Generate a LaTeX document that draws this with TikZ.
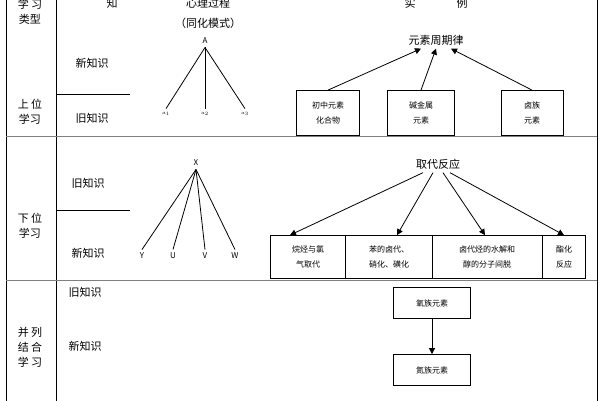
\documentclass[tikz,border=0pt]{standalone}
\usepackage{fontspec}
\setmainfont{Noto Sans CJK SC}
\usetikzlibrary{arrows.meta}
\begin{document}
\begin{tikzpicture}[x=1pt,y=-1pt,
  lbl/.style={font=\fontsize{11}{15}\selectfont,align=center},
  sm/.style={font=\fontsize{8}{12}\selectfont,align=center},
  bx/.style={draw,thick,font=\fontsize{8}{15}\selectfont,align=center,inner sep=0pt},
  arr/.style={-{Triangle[length=6pt,width=6pt]},thick},
  ln/.style={thick}]
\fill[white] (0,0) rectangle (600,400);
\useasboundingbox (0,0) rectangle (600,400);
% table
\draw[ln] (6,-5) -- (6,405);
\draw[ln] (56,-5) -- (56,405);
\draw[ln] (597,-5) -- (597,405);
\draw[thick,gray] (6,136) -- (597,136);
\draw[thick,gray] (6,280) -- (597,280);
\draw[ln] (56,94) -- (130,94);
\draw[ln] (56,210) -- (130,210);
% header
\node[lbl] (h1) at (30,12) {学 习\\类型};
\node[lbl] (h2) at (112,3) {知};
\node[lbl] (h3) at (208,3) {心理过程};
\node[lbl] (h4) at (208,23) {（同化模式）};
\node[lbl] (h5) at (410,3) {实};
\node[lbl] (h6) at (462,3) {例};
% row1
\node[lbl] (r1) at (30,112) {上 位\\学习};
\node[lbl] (n1) at (92,63) {新知识};
\node[lbl] (o1) at (92,118) {旧知识};
\node[sm] (A) at (205,41) {A};
\node[font=\tiny] (a1) at (166,114) {$a_1$};
\node[font=\tiny] (a2) at (205,114) {$a_2$};
\node[font=\tiny] (a3) at (245,114) {$a_3$};
\draw[ln] (A.south) -- (a1.north);
\draw[ln] (A.south) -- (a2.north);
\draw[ln] (A.south) -- (a3.north);
\node[lbl] (P) at (436,40) {元素周期律};
\node[bx,minimum width=63pt,minimum height=45pt] (b1) at (328,113) {初中元素\\化合物};
\node[bx,minimum width=67pt,minimum height=45pt] (b2) at (421,113) {碱金属\\元素};
\node[bx,minimum width=62pt,minimum height=45pt] (b3) at (532,113) {卤族\\元素};
\draw[arr] (b1.north) -- ([xshift=-15pt]P.south);
\draw[arr] (b2.north) -- ([xshift=0pt]P.south);
\draw[arr] (b3.north) -- ([xshift=15pt]P.south);
% row2
\node[lbl] (r2) at (30,226) {下 位\\学习};
\node[lbl] (o2) at (88,183) {旧知识};
\node[lbl] (n2) at (88,253) {新知识};
\node[sm] (X) at (196,163) {X};
\node[sm] (Y) at (142,256) {Y};
\node[sm] (U) at (173,256) {U};
\node[sm] (V) at (205,256) {V};
\node[sm] (W) at (235,256) {W};
\foreach \t in {Y,U,V,W} \draw[ln] (X.south) -- (\t.north);
\node[lbl] (Q) at (438,164) {取代反应};
\node[bx,minimum width=75pt,minimum height=43pt] (c1) at (308,257) {烷烃与氯\\气取代};
\node[bx,minimum width=87pt,minimum height=43pt] (c2) at (389,257) {苯的卤代、\\硝化、磺化};
\node[bx,minimum width=110pt,minimum height=43pt] (c3) at (487,257) {卤代烃的水解和\\醇的分子间脱};
\node[bx,minimum width=43pt,minimum height=43pt] (c4) at (564,257) {酯化\\反应};
\draw[arr] ([xshift=-15pt]Q.south) -- ([xshift=-18pt]c1.north);
\draw[arr] ([xshift=-5pt]Q.south) -- ([xshift=8pt]c2.north);
\draw[arr] ([xshift=5pt]Q.south) -- ([xshift=-2pt]c3.north);
\draw[arr] ([xshift=12pt]Q.south) -- ([xshift=0pt]c4.north);
% row3
\node[lbl] (r3) at (30,347) {并 列\\结 合\\学 习};
\node[lbl] (o3) at (85,292) {旧知识};
\node[lbl] (n3) at (85,346) {新知识};
\node[bx,minimum width=77pt,minimum height=31pt] (d1) at (432,303) {氧族元素};
\node[bx,minimum width=77pt,minimum height=31pt] (d2) at (432,370) {氮族元素};
\draw[arr] (d1.south) -- (d2.north);
\end{tikzpicture}
\end{document}
